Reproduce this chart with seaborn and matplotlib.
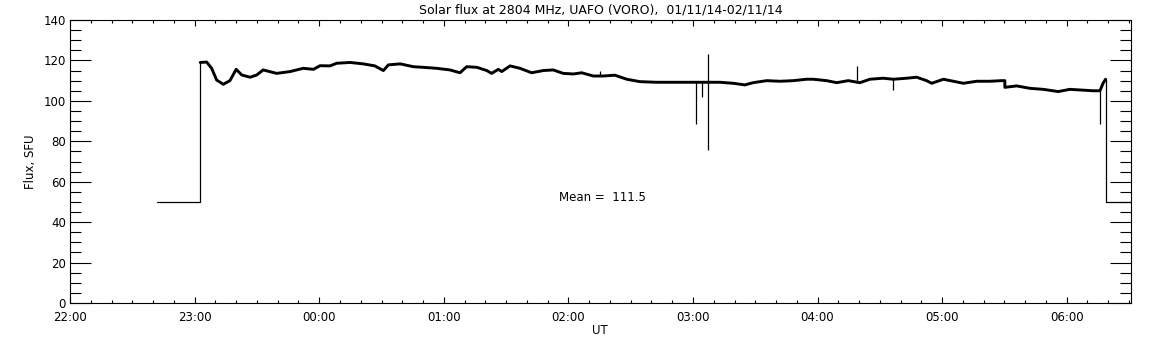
import pandas as pd
import seaborn as sns
import matplotlib.pyplot as plt

# time is minutes after 22:00 UT, flux in SFU
trace_min = [62.7, 65.8, 68.2, 70.6, 73.8, 77, 80, 82.7, 86.7, 89.9, 93, 99.5, 106,
             112.3, 117.2, 120.4, 125.2, 128.4, 134.8, 141.2, 146.8, 150.9, 153.3,
             159, 165.3, 170.1, 176.6, 183, 187.8, 191, 195.9, 200.7, 203, 206.3,
             207.9, 211.9, 216.7, 222.3, 227.9, 232.7, 237.5, 242.4, 246.4, 252,
             256.8, 262.4, 268.1, 274.5, 282.5, 290.5, 296.9, 313, 319.4, 325, 329,
             335.5, 341.9, 348.3, 354.7, 357.9, 364.4, 369.2, 374.8, 380.4, 385.2,
             391.6, 396.5, 402.9, 407.7, 412.5, 415, 420.6, 425.4, 430.2, 436.6,
             443, 448.6, 450.2, 450.2, 455.9, 462.3, 468.7, 475.9, 481.5, 486.3,
             492.7, 496, 497.5, 498.7]
trace_sfu = [119, 119.2, 116.1, 110.3, 108.2, 110, 115.6, 112.8, 111.7, 112.8, 115.3,
             113.6, 114.5, 116.1, 115.6, 117.4, 117.3, 118.6, 119, 118.3, 117.3, 115,
             117.8, 118.3, 116.9, 116.6, 116.1, 115.3, 113.9, 116.9, 116.6, 115,
             113.6, 115.6, 114.5, 117.3, 116.1, 113.9, 115, 115.3, 113.6, 113.3,
             113.9, 112.3, 112.3, 112.7, 110.7, 109.5, 109.2, 109.2, 109.2, 109.2,
             108.7, 107.9, 109, 110, 109.7, 110, 110.7, 110.7, 110, 109, 110, 109,
             110.7, 111.2, 110.7, 111.2, 111.7, 110, 108.7, 110.7, 109.7, 108.7,
             109.7, 109.7, 110, 110, 106.7, 107.4, 106.2, 105.7, 104.6, 105.7, 105.4,
             105, 105, 108.7, 110.7]

# flat 50 SFU stretches before/after the observation
pre_min = [42, 62.7, 62.7]
pre_sfu = [50, 50, 119]
post_min = [498.7, 498.7, 510.8]
post_sfu = [110.7, 50, 50]

# short spikes
spike_min = [255, 301.3, 304.2, 307.4, 378.8, 396.5, 496.2]
spike_lo = [112.3, 88.4, 102, 75.5, 109, 105.4, 88.4]
spike_hi = [114.8, 109.2, 109.5, 123.2, 117.3, 110.7, 105]

hour_ticks = [0, 60, 120, 180, 240, 300, 360, 420, 480]
hour_labels = ["22:00", "23:00", "00:00", "01:00", "02:00", "03:00", "04:00", "05:00", "06:00"]

mean_flux = 111.5

sns.set_theme(style="white")
plt.rcParams["font.family"] = ["DejaVu Sans"]
plt.rcParams.update({"text.color": "black", "axes.labelcolor": "black",
                     "xtick.color": "black", "ytick.color": "black"})

fig = plt.figure(figsize=(11.52, 3.45), dpi=100)
ax = fig.add_axes([0.0608, 0.1217, 0.9207, 0.8203])

df = pd.DataFrame({"t": trace_min, "flux": trace_sfu})
sns.lineplot(data=df, x="t", y="flux", estimator=None, sort=False,
             color="black", linewidth=2.1, ax=ax)
sns.lineplot(x=pre_min, y=pre_sfu, estimator=None, sort=False,
             color="black", linewidth=0.9, ax=ax)
sns.lineplot(x=post_min, y=post_sfu, estimator=None, sort=False,
             color="black", linewidth=0.9, ax=ax)
ax.vlines(spike_min, spike_lo, spike_hi, color="black", linewidth=0.9)

ax.set_xlim(0, 510.8)
ax.set_ylim(0, 140)

ax.set_xticks(hour_ticks)
ax.set_xticklabels(hour_labels)
ax.set_xticks(range(0, 511, 10), minor=True)
ax.set_yticks(range(0, 141, 20))
ax.set_yticks(range(0, 141, 5), minor=True)

ax.tick_params(axis="x", which="major", direction="in", length=4.1, width=0.8,
               top=True, bottom=True, pad=6, labelsize=8.5)
ax.tick_params(axis="x", which="minor", direction="in", length=2.2, width=0.8,
               top=True, bottom=True)
ax.tick_params(axis="y", which="major", direction="in", length=14.9, width=0.8,
               left=True, right=True, pad=3, labelsize=8.5)
ax.tick_params(axis="y", which="minor", direction="in", length=7.9, width=0.8,
               left=True, right=True)

for s in ax.spines.values():
    s.set_color("black")
    s.set_linewidth(0.8)

ax.set_xlabel("UT", fontsize=8.5, labelpad=0)
ax.set_ylabel("Flux, SFU", fontsize=8.5, labelpad=5)
ax.set_title("Solar flux at 2804 MHz, UAFO (VORO),  01/11/14-02/11/14",
             fontsize=9, pad=5)
ax.text(235.5, 52, f"Mean =  {mean_flux}", fontsize=8.5, ha="left", va="center")

fig.savefig("out.png", dpi=100, facecolor="white")
